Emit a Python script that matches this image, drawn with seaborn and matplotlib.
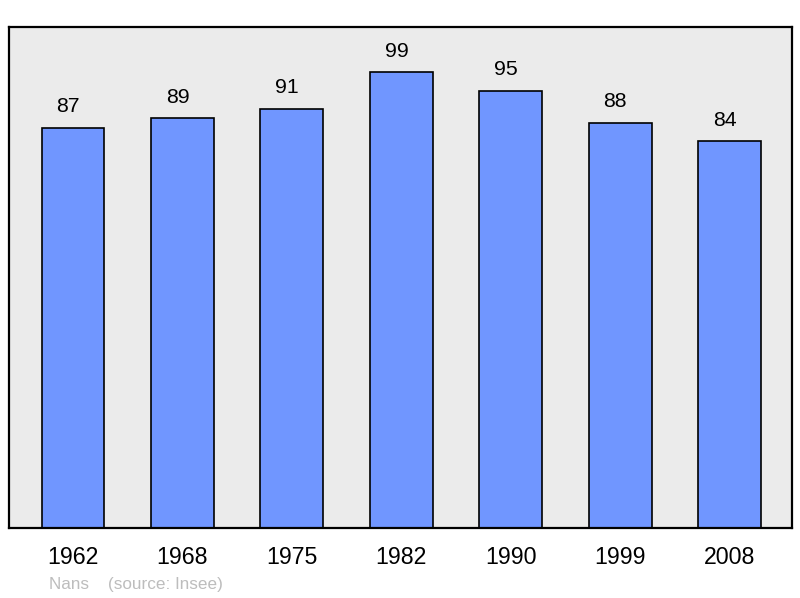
import matplotlib
matplotlib.use("Agg")
import matplotlib.pyplot as plt
import seaborn as sns
import pandas as pd

years = ["1962", "1968", "1975", "1982", "1990", "1999", "2008"]
population = [87, 89, 91, 99, 95, 88, 84]
commune = "Nans"
source = "(source: Insee)"

sns.set_theme(style="white")
plt.rcParams['font.family'] = ['Liberation Sans', 'DejaVu Sans']

df = pd.DataFrame({"year": years, "pop": population})

fig = plt.figure(figsize=(8, 5.98), dpi=100)
ax = fig.add_axes([0.01125, 0.117, 0.97875, 0.838])
ax.set_facecolor("#ebebeb")

sns.barplot(data=df, x="year", y="pop", color="#7096ff", saturation=1,
            width=0.575, edgecolor="black", linewidth=1.2, ax=ax)

# value labels sit a bit left of the bar centre, like the original
for i, v in enumerate(population):
    ax.annotate(str(v), (i, v), xytext=(-3.5, 8.5), textcoords="offset points",
                ha="center", va="bottom", fontsize=15.3, color="black")

ax.set_xlim(-0.585, 6.57)
ax.set_ylim(0, 108.9)
ax.set_yticks([])
ax.set_xlabel("")
ax.set_ylabel("")
ax.tick_params(axis="x", length=0, pad=13, labelsize=16.7, colors="black")
for s in ax.spines.values():
    s.set_visible(True)
    s.set_color("black")
    s.set_linewidth(1.6)

fig.text(49 / 800, 1 - 584 / 598, commune + "    " + source, fontsize=12.3,
         color="#bdbdbd", ha="left", va="center")

fig.savefig("out.png", dpi=100)
